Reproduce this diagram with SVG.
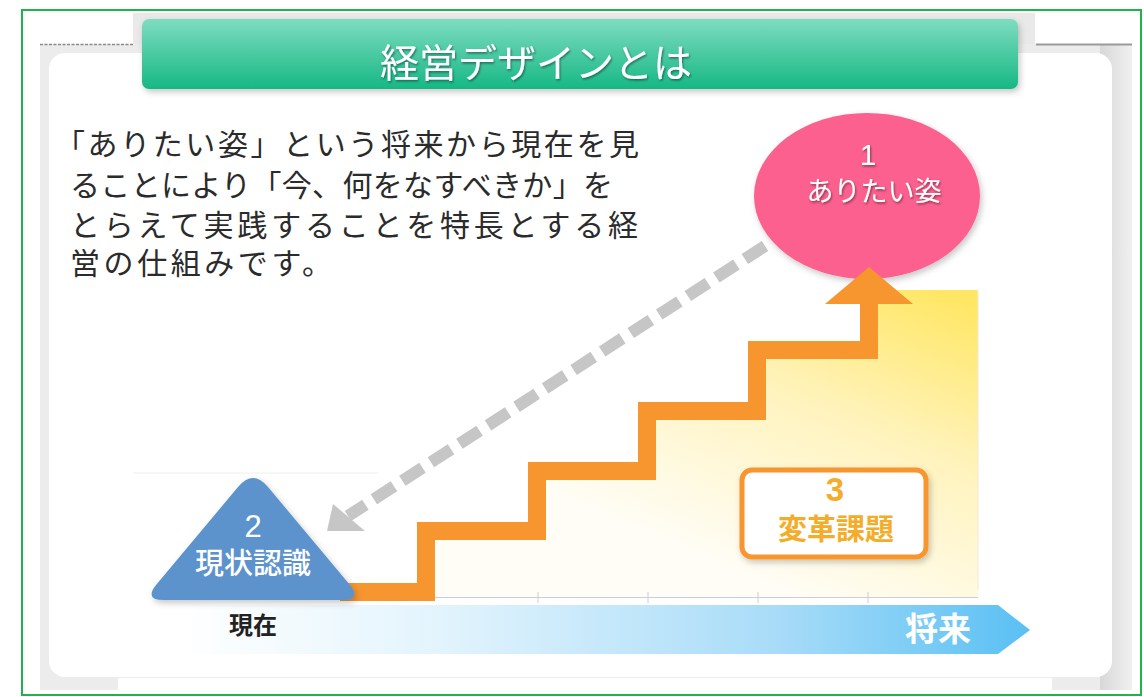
<svg xmlns="http://www.w3.org/2000/svg" width="1144" height="697" viewBox="0 0 1144 697">
<style>
.jp{font-family:"Noto Sans CJK JP","Noto Sans",sans-serif}
.num{font-family:"Liberation Sans",Arial,sans-serif}
.body{font-size:30px;fill:#2b2b2b}
.wt{fill:#ffffff}
</style>
<defs>
<linearGradient id="gTitle" x1="0" y1="0" x2="0" y2="1">
<stop offset="0" stop-color="#7edcc0"/>
<stop offset="1" stop-color="#16b883"/>
</linearGradient>
<linearGradient id="gYellow" gradientUnits="userSpaceOnUse" x1="930" y1="290" x2="800" y2="600">
<stop offset="0" stop-color="#ffe766"/>
<stop offset="0.45" stop-color="#fff3bd"/>
<stop offset="1" stop-color="#fffdf6"/>
</linearGradient>
<linearGradient id="gTime" gradientUnits="userSpaceOnUse" x1="180" y1="0" x2="1030" y2="0">
<stop offset="0" stop-color="#ffffff"/>
<stop offset="0.3" stop-color="#e3f4fd"/>
<stop offset="0.7" stop-color="#a9dcf8"/>
<stop offset="1" stop-color="#59c0f3"/>
</linearGradient>
<linearGradient id="gRight" x1="0" y1="0" x2="1" y2="0">
<stop offset="0" stop-color="#d8d8d8"/>
<stop offset="1" stop-color="#f0f0f0"/>
</linearGradient>
<filter id="sh" x="-20%" y="-20%" width="140%" height="150%">
<feDropShadow dx="2" dy="3" stdDeviation="3" flood-color="#000" flood-opacity="0.22"/>
</filter>
<filter id="tsh" x="-10%" y="-10%" width="120%" height="130%">
<feDropShadow dx="1" dy="1.5" stdDeviation="0.8" flood-color="#000" flood-opacity="0.45"/>
</filter>
</defs>

<rect x="0" y="0" width="1144" height="697" fill="#ffffff"/>

<!-- slide frame background -->
<g id="frame">
<rect x="133" y="13" width="902" height="45" fill="#e9e9e9"/>
<rect x="40" y="44" width="1092" height="646" fill="#ececec"/>
<rect x="1100" y="44" width="32" height="646" fill="url(#gRight)"/>
<rect x="118" y="678" width="934" height="19" fill="#ffffff"/>
<line x1="40" y1="44.5" x2="133" y2="44.5" stroke="#8a8a8a" stroke-width="1.5" stroke-dasharray="3 1.5"/>
<line x1="1036" y1="44.5" x2="1132" y2="44.5" stroke="#9a9a9a" stroke-width="2"/>
<rect x="49" y="53" width="1063" height="624" rx="16" fill="#ffffff"/>
<line x1="133" y1="473" x2="378" y2="473" stroke="#eeeeee" stroke-width="1"/>
</g>

<!-- title -->
<g id="title">
<rect x="142" y="19" width="876" height="70" rx="7" fill="url(#gTitle)" filter="url(#sh)"/>
<text x="536" y="77" text-anchor="middle" class="jp wt" font-size="39" filter="url(#tsh)">経営デザインとは</text>
</g>

<!-- body text -->
<g id="description" class="jp body">
<text x="55" y="155" textLength="584" lengthAdjust="spacing">「ありたい姿」という将来から現在を見</text>
<text x="70" y="196" textLength="543" lengthAdjust="spacing">ることにより「今、何をなすべきか」を</text>
<text x="70" y="236" textLength="568" lengthAdjust="spacing">とらえて実践することを特長とする経</text>
<text x="70" y="274" textLength="262" lengthAdjust="spacing">営の仕組みです。</text>
</g>

<!-- yellow area under stairs -->
<g id="area">
<polygon points="435,597 435,540 546,540 546,480 656,480 656,420 766,420 766,359 878,359 878,290 978,290 978,597" fill="url(#gYellow)"/>
<line x1="978" y1="290" x2="978" y2="590" stroke="#f1ead0" stroke-width="1"/>
</g>

<!-- timeline -->
<g id="timeline">
<line x1="345" y1="597.5" x2="978" y2="597.5" stroke="#c9ced9" stroke-width="1"/>
<g stroke="#c9ced9" stroke-width="1">
<line x1="538" y1="592" x2="538" y2="603"/>
<line x1="648" y1="592" x2="648" y2="603"/>
<line x1="758" y1="592" x2="758" y2="603"/>
<line x1="868" y1="592" x2="868" y2="603"/>
</g>
<polygon points="150,605 998,605 1030,630 998,654 150,654" fill="url(#gTime)"/>
<text x="938" y="641" text-anchor="middle" class="jp wt" font-size="33" font-weight="bold">将来</text>
<text x="253" y="634" text-anchor="middle" class="jp" font-size="24" font-weight="bold" fill="#222222">現在</text>
</g>

<!-- connectors -->
<g id="connectors">
<path d="M340 592 H426 V531 H537 V471 H647 V411 H757 V350 H869 V300" fill="none" stroke="#f7952f" stroke-width="18" stroke-linejoin="miter"/>
<line x1="765" y1="246" x2="348" y2="516" stroke="#c6c6c6" stroke-width="12" stroke-dasharray="24 10"/>
<polygon points="327,531 365,531 333,504" fill="#c6c6c6"/>
</g>

<!-- node 1 -->
<g id="node1">
<ellipse cx="867" cy="196" rx="113" ry="83" fill="#fc608e" filter="url(#sh)"/>
<text x="868" y="165" text-anchor="middle" class="num wt" font-size="30" filter="url(#tsh)">1</text>
<text x="874" y="201" text-anchor="middle" class="jp wt" font-size="27" filter="url(#tsh)">ありたい姿</text>
</g>

<!-- arrowhead of staircase on top of node 1 -->
<g id="stair-arrow">
<polygon points="825,304 913,304 869,267" fill="#f7952f"/>
</g>

<!-- node 2 -->
<g id="node2">
<path d="M238 487 Q253 469 268 487 L350 585 Q362 600 342 600 L164 600 Q144 600 156 585 Z" fill="#5c93cc" filter="url(#sh)"/>
<text x="253" y="537" text-anchor="middle" class="num wt" font-size="31">2</text>
<text x="253" y="574" text-anchor="middle" class="jp wt" font-size="29" font-weight="500">現状認識</text>
</g>

<!-- node 3 -->
<g id="node3">
<rect x="742" y="470" width="184" height="87" rx="10" fill="#ffffff" stroke="#f7952f" stroke-width="5" filter="url(#sh)"/>
<text x="835" y="501" text-anchor="middle" class="num" font-size="33" font-weight="bold" fill="#f3ad2a">3</text>
<text x="836" y="540" text-anchor="middle" class="jp" font-size="29" font-weight="bold" fill="#f3ad2a">変革課題</text>
</g>

<!-- outer border -->
<rect x="22" y="10" width="1119" height="685" fill="none" stroke="#22b14c" stroke-width="2"/>
</svg>
